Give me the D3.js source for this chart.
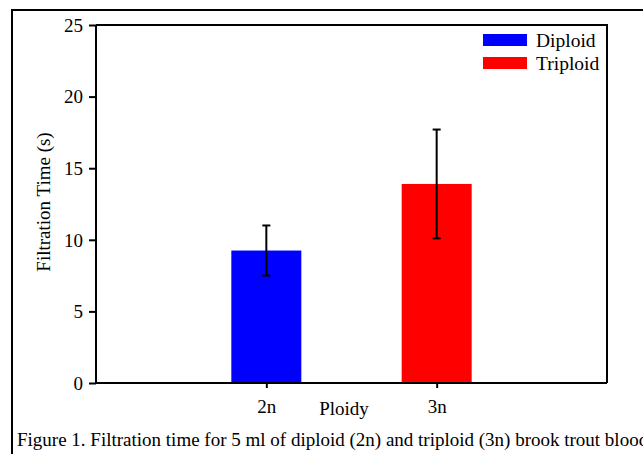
<!DOCTYPE html>
<html><head><meta charset="utf-8">
<script src="https://cdn.jsdelivr.net/npm/d3@7"></script>
<style>body{margin:0;background:#fff}svg{display:block}</style>
</head><body>
<svg id="c" width="643" height="454"></svg>
<script>
const categories = ["2n", "3n"];
const seriesNames = ["Diploid", "Triploid"];
const values = [9.25, 13.9];
const errors = [1.75, 3.8];
const colors = ["#0000ff", "#ff0000"];
const yTicks = [0, 5, 10, 15, 20, 25];

const FONT = '"Liberation Serif", "Times New Roman", Tinos, serif';
const svg = d3.select("#c").style("font-family", FONT);
const L = 96, R = 607, T = 25, B = 383;

// outer figure border
svg.append("path").attr("d", "M12,460V10H660").attr("fill", "none").attr("stroke", "#000").attr("stroke-width", 2);

const x = d3.scalePoint().domain(categories).range([L, R]).padding(1);
const y = d3.scaleLinear().domain([0, 25]).range([B, T]);

// frame top/right
svg.append("path").attr("d", `M${L},${T}H${R}V${B}`).attr("fill", "none").attr("stroke", "#000").attr("stroke-width", 2);

const bw = 70;
svg.selectAll("rect.bar").data(values).join("rect").attr("class", "bar")
  .attr("x", (d, i) => x(categories[i]) - bw / 2)
  .attr("width", bw)
  .attr("y", d => y(d))
  .attr("height", d => y(0) - y(d) - 1)
  .attr("fill", (d, i) => colors[i]);

// error bars
const eb = svg.append("g").attr("stroke", "#000").attr("stroke-width", 2);
values.forEach((v, i) => {
  const cx = x(categories[i]);
  eb.append("line").attr("x1", cx).attr("x2", cx).attr("y1", y(v + errors[i])).attr("y2", y(v - errors[i]));
  [v + errors[i], v - errors[i]].forEach(e => {
    eb.append("line").attr("x1", cx - 4).attr("x2", cx + 4).attr("y1", y(e)).attr("y2", y(e));
  });
});

// y axis
const ya = svg.append("g").attr("transform", `translate(${L},0)`)
  .call(d3.axisLeft(y).tickValues(yTicks).tickSize(7).tickPadding(6).tickFormat(d3.format("d")));
ya.attr("font-family", FONT).attr("font-size", 19);
ya.select(".domain").attr("stroke-width", 2).attr("d", `M0,${B}V${T}`);
ya.selectAll(".tick line").attr("stroke-width", 2);
ya.selectAll("text").attr("dy", "0.33em");

// x axis
const xa = svg.append("g").attr("transform", `translate(0,${B})`)
  .call(d3.axisBottom(x).tickSize(5));
xa.attr("font-family", FONT).attr("font-size", 19);
xa.select(".domain").attr("stroke-width", 2).attr("d", `M${L},0H${R}`);
xa.selectAll(".tick line").attr("stroke-width", 2);
xa.selectAll("text").attr("dy", null).attr("y", 30);

// axis titles
svg.append("text").attr("x", 344).attr("y", 415).attr("text-anchor", "middle")
  .style("font-size", "19px").text("Ploidy");
svg.append("text").attr("transform", "translate(50,202) rotate(-90)").attr("text-anchor", "middle")
  .style("font-size", "19px").text("Filtration Time (s)");

// legend
const lg = svg.append("g");
seriesNames.forEach((n, i) => {
  lg.append("rect").attr("x", 483).attr("y", 34 + i * 23).attr("width", 44).attr("height", 12).attr("fill", colors[i]);
  lg.append("text").attr("x", 536).attr("y", 47 + i * 23).style("font-size", "19.5px").text(n);
});

// caption
svg.append("text").attr("x", 17).attr("y", 446).style("font-size", "19px")
  .text("Figure 1. Filtration time for 5 ml of diploid (2n) and triploid (3n) brook trout blood");
</script>
</body></html>
